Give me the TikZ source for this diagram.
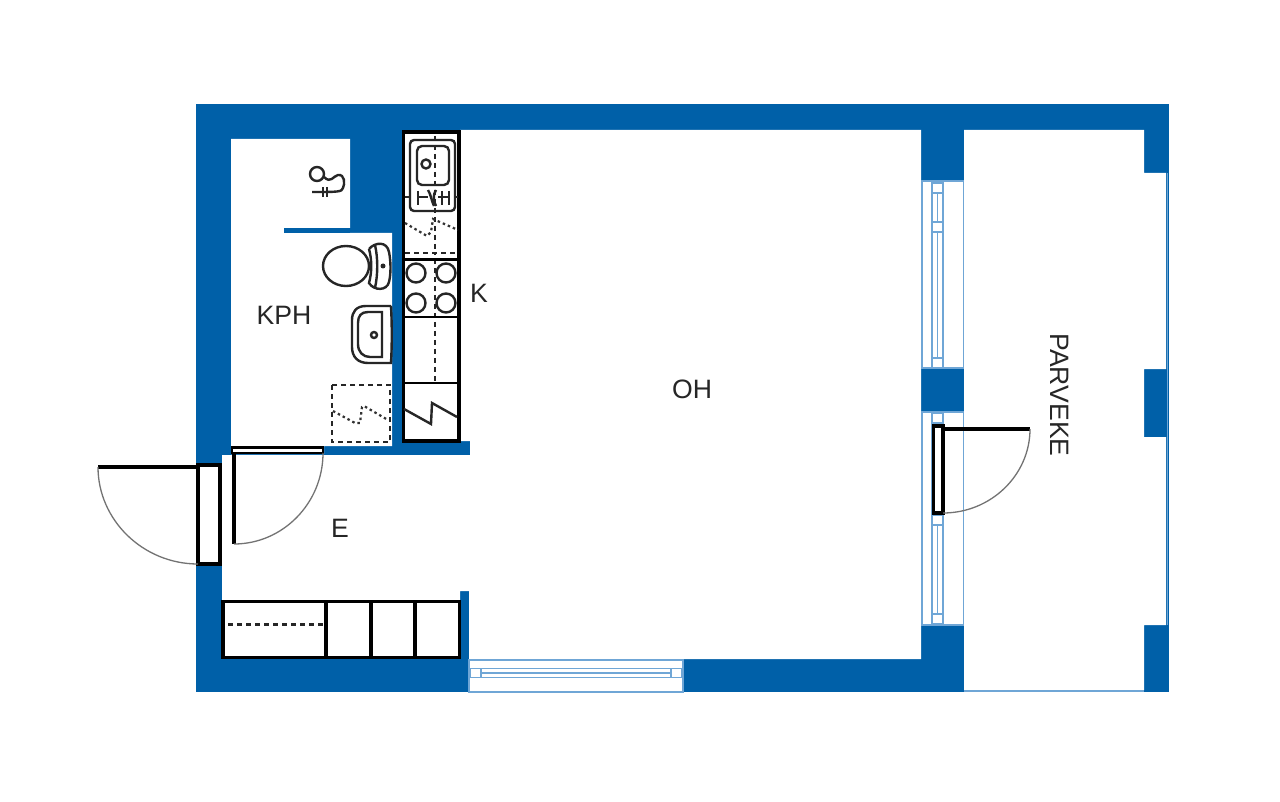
\documentclass[tikz,border=0pt]{standalone}
\usepackage{fontspec}
\setmainfont{Liberation Sans}
\usetikzlibrary{positioning}

\definecolor{wallblue}{HTML}{0060A8}
\definecolor{frameblue}{HTML}{6FA6D6}

\tikzset{
  wall/.style={fill=wallblue, draw=none},
  room/.style={fill=white, draw=none},
  frameline/.style={draw=frameblue, line width=1.7pt, fill=white},
  fixture/.style={draw=black!85, line width=2.4pt},
  heavy/.style={draw=black, line width=3.3pt},
  swing/.style={draw=black!55, line width=1.3pt},
  dashline/.style={draw=black!85, line width=2.2pt, dash pattern=on 5pt off 4pt},
  dotline/.style={draw=black!80, line width=2.2pt, dash pattern=on 2.5pt off 3pt},
  roomlabel/.style={font=\fontsize{26.6}{30}\selectfont, text=black!85, inner sep=0pt}
}

\begin{document}
\begin{tikzpicture}[x=1pt, y=-1pt]
  \useasboundingbox[fill=white] (0,0) rectangle (1280,802);

  % Draw the walls
  \fill[wall] (196,104) rectangle (1169,692);

  % Cut out the rooms
  \fill[room] (231,139) -- (350,139) -- (350,228) -- (284,228) -- (284,233) -- (392,233)
    -- (392,446) -- (324,446) -- (324,454) -- (231,454) -- cycle;
  \fill[room] (460,130) -- (921,130) -- (921,659) -- (469,659) -- (469,591) -- (460,591)
    -- (460,602) -- (222,602) -- (222,455) -- (470,455) -- (470,441) -- (460,441) -- cycle;
  \fill[room] (964,130) -- (1144,130) -- (1144,173) -- (1166,173) -- (1166,369) -- (1144,369)
    -- (1144,437) -- (1166,437) -- (1166,625) -- (1144,625) -- (1144,690) -- (964,690) -- cycle;
  \fill[wall] (284,228) rectangle (350,233);

  % Right edge of the balcony
  \draw[frameblue, line width=1.8pt] (1167.5,173) -- (1167.5,625);
  \draw[frameblue, line width=1.8pt] (964,691) -- (1144,691);

  % Window on the bottom wall
  \draw[frameline] (469,660) rectangle (683,692);
  \draw[frameline] (470,668.5) rectangle (682,677.5);
  \draw[frameline] (481,668.5) rectangle (671,677.5);
  \draw[frameline] (481,673) -- (671,673);

  % Windows on the right wall
  \foreach \ya/\yb in {181/368, 412/625} {
    \draw[frameline] (922,\ya) rectangle (963.5,\yb);
    \draw[frameline] (932,\ya) rectangle (943,\yb);
    \draw[frameline] (937.5,\ya+2) -- (937.5,\yb-2);
  }
  \foreach \y in {183, 222, 358, 413, 515, 614} {
    \draw[frameline] (932,\y) rectangle (943,\y+10);
  }

  % Balcony door
  \draw[heavy, fill=white] (933.5,426) rectangle (943,513);
  \draw[heavy] (943,429) -- (1030,429);
  \draw[swing] (1030,429) .. controls (1030,475) and (991,513) .. (943,513);

  % Entrance door
  \draw[heavy, fill=white] (198,465) rectangle (220,564);
  \draw[heavy] (198,467) -- (98,467);
  \draw[swing] (98,467) .. controls (98,520) and (143,564) .. (198,564);

  % Bathroom door
  \draw[heavy, fill=white, line width=2.4pt] (232,447.5) rectangle (323,453);
  \draw[heavy] (234,453) -- (234,544);
  \draw[swing] (323,453) .. controls (323,503) and (283,544) .. (234,544);

  % Wardrobes
  \draw[heavy, fill=white] (223,601.5) rectangle (459.5,657.5);
  \foreach \x in {326, 371, 415} {
    \draw[heavy] (\x,601.5) -- (\x,657.5);
  }
  \draw[dashline] (228,624.5) -- (325,624.5);

  % Kitchen row
  \draw[heavy, fill=white, line width=3.6pt] (403.5,132) rectangle (459,441);
  \draw[fixture, rounded corners=4pt] (410,140) rectangle (455,211);
  \draw[fixture, rounded corners=5pt] (417,146) rectangle (449,185);
  \draw[fixture] (426,164) circle[radius=4.5];
  \draw[dashline] (435,136) -- (435,255);
  \draw[dashline] (435,259) -- (435,382);
  \draw[dashline] (405,197) -- (411,197);
  \draw[dashline] (454,197) -- (458,197);
  \draw[fixture] (418,197) -- (428,197);
  \draw[fixture] (438,197) -- (449,197);
  \foreach \x in {418, 442, 449} {
    \draw[fixture] (\x,191) -- (\x,205);
  }
  \draw[fixture] (428,190) .. controls (431,195) and (431,199) .. (434,206);
  \draw[fixture] (436,190) .. controls (433,195) and (433,199) .. (436,206);
  \draw[dotline] (405,223) -- (427,236) -- (431,232) -- (433,219) -- (458,230);
  \draw[dashline] (405,253) -- (458,253);
  \draw[heavy, line width=2.6pt] (403,259.5) -- (459,259.5);
  \foreach \x in {416, 446} {
    \foreach \y in {273, 303} {
      \draw[fixture] (\x,\y) circle[radius=9.5];
    }
  }
  \draw[heavy, line width=2.6pt] (403,317) -- (459,317);
  \draw[heavy, line width=2.6pt] (403,383) -- (459,383);
  \draw[fixture] (404,409) -- (431,424) -- (432,403) -- (457,417);

  % Toilet
  \draw[fixture, fill=white] (346,266) ellipse[x radius=23, y radius=20];
  \draw[fixture, fill=white] (369,249) .. controls (375,242) and (387,241) .. (389,252)
    .. controls (391,262) and (391,274) .. (389,282)
    .. controls (387,291) and (374,291) .. (369,283)
    .. controls (372,272) and (372,260) .. (369,249);
  \draw[fixture] (375,245) .. controls (378,258) and (378,274) .. (375,288);
  \fill[black!85] (383,266) circle[radius=2.5];

  % Wash basin
  \draw[fixture] (391,306) -- (366,306) .. controls (356,306) and (352,312) .. (352,320)
    -- (352,347) .. controls (352,357) and (358,363) .. (368,363) -- (391,363)
    .. controls (392,345) and (392,325) .. (391,306);
  \draw[fixture] (382,312) -- (368,312) .. controls (361,312) and (358,316) .. (358,323)
    -- (358,344) .. controls (358,352) and (363,357) .. (370,357) -- (382,357) -- cycle;
  \draw[fixture] (374,335) circle[radius=3];

  % Washing machine place
  \draw[dashline, line width=2.4pt] (332,385) rectangle (390,442);
  \draw[dotline] (333,411) -- (355,423) -- (360,423) -- (362,407) -- (364,406) -- (388,420);

  % Shower tap
  \draw[fixture] (317,174) circle[radius=7];
  \draw[fixture] (324,177) .. controls (331,184) and (333,176) .. (338,175)
    .. controls (345,174) and (345,184) .. (343,188) .. controls (342,192) and (338,192) .. (312,192);
  \foreach \x in {323, 327} {
    \draw[fixture] (\x,187) -- (\x,197);
  }

  % Room names
  \node[roomlabel] (kph) at (284,315) {KPH};
  \node[roomlabel] (k) at (479,293) {K};
  \node[roomlabel] (oh) at (692,389) {OH};
  \node[roomlabel] (e) at (340,528) {E};
  \node[roomlabel, rotate=-90] (parveke) at (1060,395) {PARVEKE};
\end{tikzpicture}
\end{document}
